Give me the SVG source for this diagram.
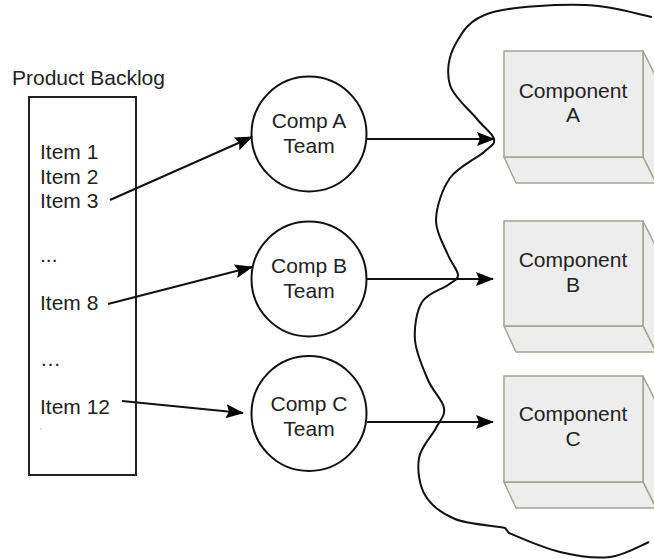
<svg xmlns="http://www.w3.org/2000/svg" width="654" height="559" viewBox="0 0 654 559">
<style>
  text { font-family: "Liberation Sans", Arial, sans-serif; font-size: 21px; fill: #222; }
  .mid { text-anchor: middle; }
  .backlog { fill: #fff; stroke: #222; stroke-width: 2; }
  .team { fill: #fff; stroke: #111; stroke-width: 2; }
  .face { fill: #ededed; stroke: #a3a392; stroke-width: 1.5; stroke-linejoin: round; }
  .conn { fill: none; stroke: #111; stroke-width: 2; marker-end: url(#arrow); }
  .cloud { fill: none; stroke: #111; stroke-width: 2; }
</style>
<defs>
  <marker id="arrow" viewBox="0 0 18 14" refX="17" refY="7" markerWidth="18" markerHeight="14" markerUnits="userSpaceOnUse" orient="auto">
    <path d="M0,0 L18,7 L0,14 L3,7 Z" fill="#000"/>
  </marker>
</defs>
<rect width="654" height="559" fill="#fff"/>

<g id="cloud">
  <path class="cloud" d="M652,17 C640.8,15 612,5.7 585,5 C558,4.3 511.7,6.3 490,13 C468.3,19.7 461.7,33 455,45 C448.3,57 446.3,72.7 450,85 C453.7,97.3 469.7,110 477,119 C484.3,128 492.8,133.5 494,139 C495.2,144.5 491.3,145.5 484,152 C476.7,158.5 458,166.7 450,178 C442,189.3 436.3,207.2 436,220 C435.7,232.8 444.3,245.8 448,255 C451.7,264.2 458,270 458,275 C458,280 454,280.5 448,285 C442,289.5 427.5,292.8 422,302 C416.5,311.2 414,327 415,340 C416,353 423.2,368.7 428,380 C432.8,391.3 442.7,400 444,408 C445.3,416 440.2,419.7 436,428 C431.8,436.3 420.8,446.8 419,458 C417.2,469.2 419,484.8 425,495 C431,505.2 441.7,513.5 455,519 C468.3,524.5 496,525.7 505,528 L509,533 C518.2,537 543.2,548 560,552 C576.8,556 595.2,558.7 610,557 C624.8,555.3 642.5,544.5 649,542"/>
</g>

<g id="backlog">
  <text x="12" y="85">Product Backlog</text>
  <rect class="backlog" x="29" y="97" width="107" height="378"/>
  <text x="40" y="159">Item 1</text>
  <text x="40" y="184">Item 2</text>
  <text x="40" y="208">Item 3</text>
  <text x="40" y="262">...</text>
  <text x="40" y="310">Item 8</text>
  <text x="40" y="366" letter-spacing="1">…</text>
  <text x="40" y="414">Item 12</text>
  <circle cx="41" cy="429" r="0.8" fill="#aaa"/>
</g>

<g id="team-a">
  <circle class="team" cx="309" cy="134" r="57.5"/>
  <text class="mid" x="309" y="128">Comp A</text>
  <text class="mid" x="309" y="153">Team</text>
</g>
<g id="team-b">
  <circle class="team" cx="309" cy="279" r="57.5"/>
  <text class="mid" x="309" y="273">Comp B</text>
  <text class="mid" x="309" y="298">Team</text>
</g>
<g id="team-c">
  <circle class="team" cx="309" cy="413.5" r="57.5"/>
  <text class="mid" x="309" y="411">Comp C</text>
  <text class="mid" x="309" y="436">Team</text>
</g>

<g id="component-a">
  <polygon class="face" points="643,51 656,77 656,183 643,157"/>
  <polygon class="face" points="504,157 643,157 656,183 516,183"/>
  <rect class="face" x="504" y="51" width="139" height="106"/>
  <text class="mid" x="573" y="98">Component</text>
  <text class="mid" x="573" y="122">A</text>
</g>
<g id="component-b">
  <polygon class="face" points="643,221 656,247 656,352 643,326"/>
  <polygon class="face" points="504,326 643,326 656,352 516,352"/>
  <rect class="face" x="504" y="221" width="139" height="105"/>
  <text class="mid" x="573" y="267">Component</text>
  <text class="mid" x="573" y="292">B</text>
</g>
<g id="component-c">
  <polygon class="face" points="643,376 656,402 656,508 643,482"/>
  <polygon class="face" points="504,482 643,482 656,508 516,508"/>
  <rect class="face" x="504" y="376" width="139" height="106"/>
  <text class="mid" x="573" y="421">Component</text>
  <text class="mid" x="573" y="446">C</text>
</g>

<g id="connectors">
  <line class="conn" x1="110" y1="200" x2="252" y2="137"/>
  <line class="conn" x1="108" y1="304" x2="252" y2="267"/>
  <line class="conn" x1="122" y1="401" x2="243" y2="413"/>
  <line class="conn" x1="367" y1="139" x2="494" y2="139"/>
  <line class="conn" x1="367" y1="279" x2="493" y2="279"/>
  <line class="conn" x1="367" y1="422" x2="493" y2="422"/>
</g>
</svg>
